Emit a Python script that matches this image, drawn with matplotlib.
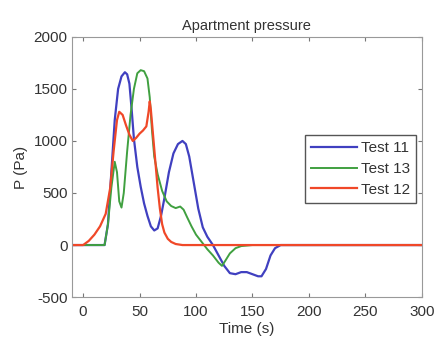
import numpy as np
import matplotlib
matplotlib.use('Agg')
from matplotlib import pyplot as plt

plt.rcParams['font.family'] = ['Liberation Sans', 'DejaVu Sans']
plt.rcParams['axes.unicode_minus'] = False

# Test 11
t11 = [-10, 0, 10, 19, 22, 25, 28, 31, 34, 37, 39, 41, 43, 45, 48, 51, 54, 57, 60, 63, 66,
       69, 72, 76, 80, 84, 88, 91, 94, 98, 102, 106, 110, 115, 120, 125, 130, 135, 140, 145,
       150, 155, 158, 162, 166, 170, 175, 180, 300]
p11 = [0, 0, 0, 0, 200, 700, 1200, 1500, 1620, 1660, 1640, 1550, 1300, 1020, 750, 560, 400,
       280, 180, 140, 160, 280, 450, 700, 880, 970, 1000, 970, 850, 600, 350, 170, 80, 0,
       -100, -200, -270, -280, -260, -260, -280, -300, -300, -230, -100, -30, 0, 0, 0]

# Test 13
t13 = [-10, 0, 10, 19, 22, 25, 28, 30, 32, 34, 36, 39, 42, 45, 48, 51, 54, 57, 59, 61, 63,
       66, 70, 74, 78, 82, 86, 89, 92, 96, 100, 105, 110, 115, 120, 123, 126, 130, 135,
       140, 150, 300]
p13 = [0, 0, 0, 0, 200, 550, 800, 700, 420, 360, 500, 900, 1250, 1500, 1650, 1680, 1670,
       1600, 1420, 1100, 850, 680, 520, 420, 375, 355, 370, 340, 270, 180, 100, 30, -40,
       -100, -170, -200, -150, -80, -30, -10, 0, 0]

# Test 12
t12 = [-10, 0, 5, 10, 15, 20, 24, 27, 30, 32, 35, 38, 41, 44, 47, 50, 53, 56, 58, 59, 60,
       62, 64, 66, 68, 70, 72, 75, 78, 82, 88, 100, 300]
p12 = [0, 0, 40, 100, 180, 300, 550, 900, 1200, 1280, 1250, 1150, 1060, 1000, 1030, 1070,
       1100, 1140, 1280, 1380, 1300, 1050, 800, 550, 350, 200, 120, 60, 30, 10, 0, 0, 0]

xticks = [0, 50, 100, 150, 200, 250, 300]
yticks = [-500, 0, 500, 1000, 1500, 2000]

fig = plt.figure(figsize=(4.38, 3.38), dpi=100)
ax = fig.add_axes([0.164, 0.121, 0.799, 0.770])
ax.plot(t11, p11, color='#4040c0', lw=1.6, label='Test 11')
ax.plot(t13, p13, color='#40a040', lw=1.4, label='Test 13')
ax.plot(t12, p12, color='#f04828', lw=1.6, label='Test 12')
ax.set_xlim(-10, 300)
ax.set_ylim(-500, 2000)
ax.set_xticks(xticks)
ax.set_yticks(yticks)
ax.tick_params(direction='in', top=True, right=True, length=3, labelsize=11,
               colors='#777777', labelcolor='#333333', pad=3)
ax.tick_params(axis='x', pad=6)
for s in ax.spines.values():
    s.set_color('#999999')
ax.set_title('Apartment pressure', fontsize=10.5, color='#333333', pad=5)
ax.set_xlabel('Time (s)', fontsize=11, color='#333333', labelpad=2)
ax.set_ylabel('P (Pa)', fontsize=11, color='#333333', labelpad=4)
leg = ax.legend(loc='upper right', bbox_to_anchor=(0.983, 0.623), fontsize=11,
                fancybox=False, handlelength=3.0, borderaxespad=0, framealpha=1,
                labelspacing=0.45, handletextpad=0.25, borderpad=0.4)
leg.get_frame().set_edgecolor('#555555')
for txt in leg.get_texts():
    txt.set_color('#333333')
fig.savefig('out.png', dpi=100)
